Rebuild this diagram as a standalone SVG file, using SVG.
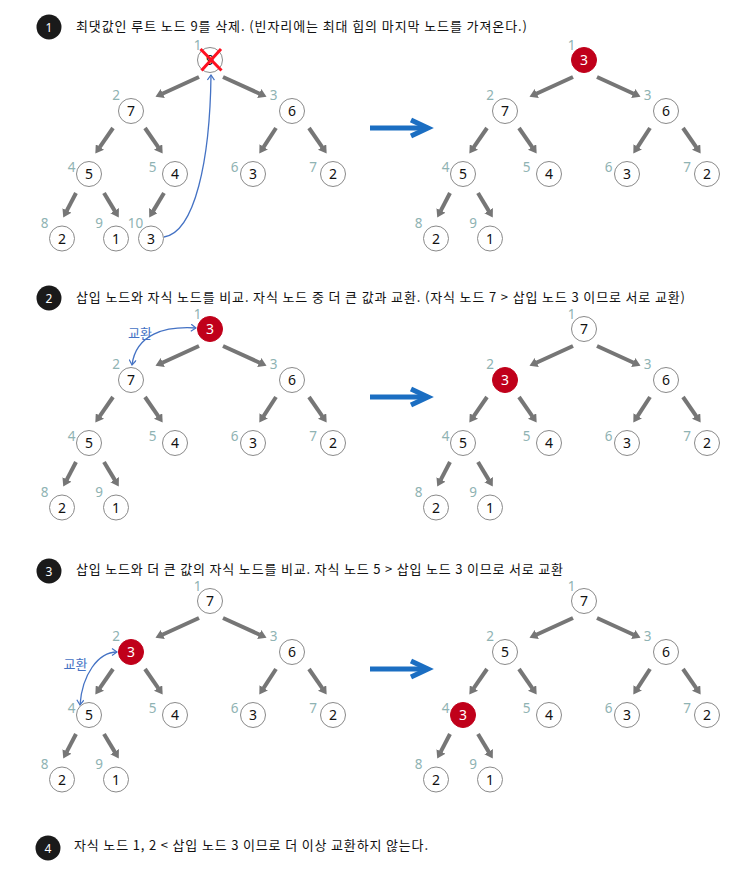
<svg xmlns="http://www.w3.org/2000/svg" width="740" height="886" viewBox="0 0 740 886">
<style>
.bg{fill:#ffffff}
.badge circle{fill:#1a1a1a}
.badge text{fill:#ffffff;font-family:"Noto Sans","Liberation Sans",sans-serif;font-size:12px;text-anchor:middle}
.title{fill:#111111;font-family:"Noto Sans CJK KR","Noto Sans",sans-serif;font-size:13px}
.node circle{fill:#ffffff;stroke:#8a8a8a;stroke-width:1}
.node .val{fill:#111111;font-family:"Noto Sans","Liberation Sans",sans-serif;font-size:14px;text-anchor:middle}
.node .idx{fill:#8fb3b3;font-family:"Noto Sans","Liberation Sans",sans-serif;font-size:13.5px;text-anchor:middle}
.node.red circle{fill:#c0001a;stroke:#c0001a}
.node.red .val{fill:#ffffff}
.edge line{stroke:#767676;stroke-width:4;marker-end:url(#ah)}
.swap{fill:none;stroke:#4472c4;stroke-width:1.3}
.swaplbl{fill:#4472c4;font-family:"Noto Sans CJK KR",sans-serif;font-size:13px;text-anchor:middle}
.big{fill:none;stroke:#1b6ec2;stroke-width:5}
.xmark{stroke:#ff1020;stroke-width:3;stroke-linecap:butt}
</style>
<defs>
<marker id="ah" viewBox="0 -5 8 10" refX="0.5" refY="0" markerWidth="8" markerHeight="10" markerUnits="userSpaceOnUse" orient="auto"><path d="M0,-5 L8,0 L0,5 z" fill="#767676"/></marker>
<marker id="bh" viewBox="-6 -4 7 8" refX="0" refY="0" markerWidth="7" markerHeight="8" markerUnits="userSpaceOnUse" orient="auto-start-reverse"><path d="M-5,-3.5 L0,0 L-5,3.5" fill="none" stroke="#4472c4" stroke-width="1.2"/></marker>
</defs>
<rect class="bg" x="0" y="0" width="740" height="886"/>

<!-- Step titles -->
<g id="step1-title">
<g class="badge"><circle cx="49" cy="27" r="12.5"/><text x="49" y="31.5">1</text></g>
<text class="title" x="76" y="31" textLength="451">최댓값인 루트 노드 9를 삭제. (빈자리에는 최대 힙의 마지막 노드를 가져온다.)</text>
</g>
<g id="step2-title">
<g class="badge"><circle cx="49" cy="298" r="12.5"/><text x="49" y="302.5">2</text></g>
<text class="title" x="76" y="302" textLength="609">삽입 노드와 자식 노드를 비교. 자식 노드 중 더 큰 값과 교환. (자식 노드 7 &gt; 삽입 노드 3 이므로 서로 교환)</text>
</g>
<g id="step3-title">
<g class="badge"><circle cx="49" cy="571" r="12.5"/><text x="49" y="575.5">3</text></g>
<text class="title" x="76" y="574" textLength="487">삽입 노드와 더 큰 값의 자식 노드를 비교. 자식 노드 5 &gt; 삽입 노드 3 이므로 서로 교환</text>
</g>
<g id="step4-title">
<g class="badge"><circle cx="48" cy="848" r="12.5"/><text x="48" y="852.5">4</text></g>
<text class="title" x="74" y="850" textLength="354">자식 노드 1, 2 &lt; 삽입 노드 3 이므로 더 이상 교환하지 않는다.</text>
</g>

<!-- Big transition arrows -->
<g id="transition-arrows">
<line class="big" x1="370" y1="128" x2="424" y2="128"/><polyline class="big" points="411,120 428,128 411,136"/>
<line class="big" x1="370" y1="397" x2="424" y2="397"/><polyline class="big" points="411,389 428,397 411,405"/>
<line class="big" x1="370" y1="669" x2="424" y2="669"/><polyline class="big" points="411,661 428,669 411,677"/>
</g>

<!-- ========== Step 1 left tree ========== -->
<g id="s1l">
<g id="s1l-connectors" class="edge">
<line x1="199" y1="77" x2="162.3" y2="93.7"/>
<line x1="223" y1="77" x2="259.7" y2="93.7"/>
<line x1="113" y1="128" x2="99.6" y2="147.4"/>
<line x1="145" y1="128" x2="158.4" y2="147.4"/>
<line x1="276" y1="128" x2="263.4" y2="147.3"/>
<line x1="309" y1="128" x2="322.4" y2="147.4"/>
<line x1="76" y1="193" x2="66.7" y2="210.9"/>
<line x1="104" y1="193" x2="114.9" y2="211.1"/>
<line x1="164" y1="193" x2="153.1" y2="211.1"/>
<path class="swap" style="marker-end:url(#bh)" d="M164,237 C195,232 210,160 211,75"/>
</g>
<g id="s1l-n1" class="node"><circle cx="210" cy="60" r="12.5"/><text class="val" x="210" y="65">9</text><text class="idx" x="197.5" y="50">1</text><line class="xmark" x1="200.5" y1="49" x2="221.5" y2="70.5"/><line class="xmark" x1="221" y1="49" x2="201.5" y2="70.5"/></g>
<g id="s1l-n2" class="node"><circle cx="131" cy="111" r="12.5"/><text class="val" x="131" y="116">7</text><text class="idx" x="116" y="100">2</text></g>
<g id="s1l-n3" class="node"><circle cx="292" cy="111" r="12.5"/><text class="val" x="292" y="116">6</text><text class="idx" x="273.5" y="100">3</text></g>
<g id="s1l-n4" class="node"><circle cx="89" cy="174" r="12.5"/><text class="val" x="89" y="179">5</text><text class="idx" x="71.5" y="172">4</text></g>
<g id="s1l-n5" class="node"><circle cx="175" cy="174" r="12.5"/><text class="val" x="175" y="179">4</text><text class="idx" x="152.5" y="172">5</text></g>
<g id="s1l-n6" class="node"><circle cx="253" cy="174" r="12.5"/><text class="val" x="253" y="179">3</text><text class="idx" x="234.5" y="172">6</text></g>
<g id="s1l-n7" class="node"><circle cx="333" cy="174" r="12.5"/><text class="val" x="333" y="179">2</text><text class="idx" x="313" y="172">7</text></g>
<g id="s1l-n8" class="node"><circle cx="62" cy="238.5" r="12.5"/><text class="val" x="62" y="243.5">2</text><text class="idx" x="44.5" y="228">8</text></g>
<g id="s1l-n9" class="node"><circle cx="116" cy="238.5" r="12.5"/><text class="val" x="116" y="243.5">1</text><text class="idx" x="99" y="228">9</text></g>
<g id="s1l-n10" class="node"><circle cx="151" cy="238.5" r="12.5"/><text class="val" x="151" y="243.5">3</text><text class="idx" x="135.5" y="228">10</text></g>
</g>

<!-- ========== Step 1 right tree ========== -->
<g id="s1r" transform="translate(374,0)">
<g id="s1r-connectors" class="edge">
<line x1="199" y1="77" x2="162.3" y2="93.7"/>
<line x1="223" y1="77" x2="259.7" y2="93.7"/>
<line x1="113" y1="128" x2="99.6" y2="147.4"/>
<line x1="145" y1="128" x2="158.4" y2="147.4"/>
<line x1="276" y1="128" x2="263.4" y2="147.3"/>
<line x1="309" y1="128" x2="322.4" y2="147.4"/>
<line x1="76" y1="193" x2="66.7" y2="210.9"/>
<line x1="104" y1="193" x2="114.9" y2="211.1"/>
</g>
<g id="s1r-n1" class="node red"><circle cx="210" cy="60" r="12.5"/><text class="val" x="210" y="65">3</text><text class="idx" x="197.5" y="50">1</text></g>
<g id="s1r-n2" class="node"><circle cx="131" cy="111" r="12.5"/><text class="val" x="131" y="116">7</text><text class="idx" x="116" y="100">2</text></g>
<g id="s1r-n3" class="node"><circle cx="292" cy="111" r="12.5"/><text class="val" x="292" y="116">6</text><text class="idx" x="273.5" y="100">3</text></g>
<g id="s1r-n4" class="node"><circle cx="89" cy="174" r="12.5"/><text class="val" x="89" y="179">5</text><text class="idx" x="71.5" y="172">4</text></g>
<g id="s1r-n5" class="node"><circle cx="175" cy="174" r="12.5"/><text class="val" x="175" y="179">4</text><text class="idx" x="152.5" y="172">5</text></g>
<g id="s1r-n6" class="node"><circle cx="253" cy="174" r="12.5"/><text class="val" x="253" y="179">3</text><text class="idx" x="234.5" y="172">6</text></g>
<g id="s1r-n7" class="node"><circle cx="333" cy="174" r="12.5"/><text class="val" x="333" y="179">2</text><text class="idx" x="313" y="172">7</text></g>
<g id="s1r-n8" class="node"><circle cx="62" cy="238.5" r="12.5"/><text class="val" x="62" y="243.5">2</text><text class="idx" x="44.5" y="228">8</text></g>
<g id="s1r-n9" class="node"><circle cx="116" cy="238.5" r="12.5"/><text class="val" x="116" y="243.5">1</text><text class="idx" x="99" y="228">9</text></g>
</g>

<!-- ========== Step 2 left tree ========== -->
<g id="s2l" transform="translate(0,269)">
<g id="s2l-connectors" class="edge">
<line x1="199" y1="77" x2="162.3" y2="93.7"/>
<line x1="223" y1="77" x2="259.7" y2="93.7"/>
<line x1="113" y1="128" x2="99.6" y2="147.4"/>
<line x1="145" y1="128" x2="158.4" y2="147.4"/>
<line x1="276" y1="128" x2="263.4" y2="147.3"/>
<line x1="309" y1="128" x2="322.4" y2="147.4"/>
<line x1="76" y1="193" x2="66.7" y2="210.9"/>
<line x1="104" y1="193" x2="114.9" y2="211.1"/>
<path class="swap" style="marker-start:url(#bh);marker-end:url(#bh)" d="M196,59 C165,57 136,65 132,96"/>
</g>
<text class="swaplbl" x="140" y="69">교환</text>
<g id="s2l-n1" class="node red"><circle cx="210" cy="60" r="12.5"/><text class="val" x="210" y="65">3</text><text class="idx" x="197.5" y="50">1</text></g>
<g id="s2l-n2" class="node"><circle cx="131" cy="111" r="12.5"/><text class="val" x="131" y="116">7</text><text class="idx" x="116" y="100">2</text></g>
<g id="s2l-n3" class="node"><circle cx="292" cy="111" r="12.5"/><text class="val" x="292" y="116">6</text><text class="idx" x="273.5" y="100">3</text></g>
<g id="s2l-n4" class="node"><circle cx="89" cy="174" r="12.5"/><text class="val" x="89" y="179">5</text><text class="idx" x="71.5" y="172">4</text></g>
<g id="s2l-n5" class="node"><circle cx="175" cy="174" r="12.5"/><text class="val" x="175" y="179">4</text><text class="idx" x="152.5" y="172">5</text></g>
<g id="s2l-n6" class="node"><circle cx="253" cy="174" r="12.5"/><text class="val" x="253" y="179">3</text><text class="idx" x="234.5" y="172">6</text></g>
<g id="s2l-n7" class="node"><circle cx="333" cy="174" r="12.5"/><text class="val" x="333" y="179">2</text><text class="idx" x="313" y="172">7</text></g>
<g id="s2l-n8" class="node"><circle cx="62" cy="238.5" r="12.5"/><text class="val" x="62" y="243.5">2</text><text class="idx" x="44.5" y="228">8</text></g>
<g id="s2l-n9" class="node"><circle cx="116" cy="238.5" r="12.5"/><text class="val" x="116" y="243.5">1</text><text class="idx" x="99" y="228">9</text></g>
</g>

<!-- ========== Step 2 right tree ========== -->
<g id="s2r" transform="translate(374,269)">
<g id="s2r-connectors" class="edge">
<line x1="199" y1="77" x2="162.3" y2="93.7"/>
<line x1="223" y1="77" x2="259.7" y2="93.7"/>
<line x1="113" y1="128" x2="99.6" y2="147.4"/>
<line x1="145" y1="128" x2="158.4" y2="147.4"/>
<line x1="276" y1="128" x2="263.4" y2="147.3"/>
<line x1="309" y1="128" x2="322.4" y2="147.4"/>
<line x1="76" y1="193" x2="66.7" y2="210.9"/>
<line x1="104" y1="193" x2="114.9" y2="211.1"/>
</g>
<g id="s2r-n1" class="node"><circle cx="210" cy="60" r="12.5"/><text class="val" x="210" y="65">7</text><text class="idx" x="197.5" y="50">1</text></g>
<g id="s2r-n2" class="node red"><circle cx="131" cy="111" r="12.5"/><text class="val" x="131" y="116">3</text><text class="idx" x="116" y="100">2</text></g>
<g id="s2r-n3" class="node"><circle cx="292" cy="111" r="12.5"/><text class="val" x="292" y="116">6</text><text class="idx" x="273.5" y="100">3</text></g>
<g id="s2r-n4" class="node"><circle cx="89" cy="174" r="12.5"/><text class="val" x="89" y="179">5</text><text class="idx" x="71.5" y="172">4</text></g>
<g id="s2r-n5" class="node"><circle cx="175" cy="174" r="12.5"/><text class="val" x="175" y="179">4</text><text class="idx" x="152.5" y="172">5</text></g>
<g id="s2r-n6" class="node"><circle cx="253" cy="174" r="12.5"/><text class="val" x="253" y="179">3</text><text class="idx" x="234.5" y="172">6</text></g>
<g id="s2r-n7" class="node"><circle cx="333" cy="174" r="12.5"/><text class="val" x="333" y="179">2</text><text class="idx" x="313" y="172">7</text></g>
<g id="s2r-n8" class="node"><circle cx="62" cy="238.5" r="12.5"/><text class="val" x="62" y="243.5">2</text><text class="idx" x="44.5" y="228">8</text></g>
<g id="s2r-n9" class="node"><circle cx="116" cy="238.5" r="12.5"/><text class="val" x="116" y="243.5">1</text><text class="idx" x="99" y="228">9</text></g>
</g>

<!-- ========== Step 3 left tree ========== -->
<g id="s3l" transform="translate(0,541)">
<g id="s3l-connectors" class="edge">
<line x1="199" y1="77" x2="162.3" y2="93.7"/>
<line x1="223" y1="77" x2="259.7" y2="93.7"/>
<line x1="113" y1="128" x2="99.6" y2="147.4"/>
<line x1="145" y1="128" x2="158.4" y2="147.4"/>
<line x1="276" y1="128" x2="263.4" y2="147.3"/>
<line x1="309" y1="128" x2="322.4" y2="147.4"/>
<line x1="76" y1="193" x2="66.7" y2="210.9"/>
<line x1="104" y1="193" x2="114.9" y2="211.1"/>
<path class="swap" style="marker-start:url(#bh);marker-end:url(#bh)" d="M117,111 C98,111 82,134 80,164"/>
</g>
<text class="swaplbl" x="75.5" y="128">교환</text>
<g id="s3l-n1" class="node"><circle cx="210" cy="60" r="12.5"/><text class="val" x="210" y="65">7</text><text class="idx" x="197.5" y="50">1</text></g>
<g id="s3l-n2" class="node red"><circle cx="131" cy="111" r="12.5"/><text class="val" x="131" y="116">3</text><text class="idx" x="116" y="100">2</text></g>
<g id="s3l-n3" class="node"><circle cx="292" cy="111" r="12.5"/><text class="val" x="292" y="116">6</text><text class="idx" x="273.5" y="100">3</text></g>
<g id="s3l-n4" class="node"><circle cx="89" cy="174" r="12.5"/><text class="val" x="89" y="179">5</text><text class="idx" x="71.5" y="172">4</text></g>
<g id="s3l-n5" class="node"><circle cx="175" cy="174" r="12.5"/><text class="val" x="175" y="179">4</text><text class="idx" x="152.5" y="172">5</text></g>
<g id="s3l-n6" class="node"><circle cx="253" cy="174" r="12.5"/><text class="val" x="253" y="179">3</text><text class="idx" x="234.5" y="172">6</text></g>
<g id="s3l-n7" class="node"><circle cx="333" cy="174" r="12.5"/><text class="val" x="333" y="179">2</text><text class="idx" x="313" y="172">7</text></g>
<g id="s3l-n8" class="node"><circle cx="62" cy="238.5" r="12.5"/><text class="val" x="62" y="243.5">2</text><text class="idx" x="44.5" y="228">8</text></g>
<g id="s3l-n9" class="node"><circle cx="116" cy="238.5" r="12.5"/><text class="val" x="116" y="243.5">1</text><text class="idx" x="99" y="228">9</text></g>
</g>

<!-- ========== Step 3 right tree ========== -->
<g id="s3r" transform="translate(374,541)">
<g id="s3r-connectors" class="edge">
<line x1="199" y1="77" x2="162.3" y2="93.7"/>
<line x1="223" y1="77" x2="259.7" y2="93.7"/>
<line x1="113" y1="128" x2="99.6" y2="147.4"/>
<line x1="145" y1="128" x2="158.4" y2="147.4"/>
<line x1="276" y1="128" x2="263.4" y2="147.3"/>
<line x1="309" y1="128" x2="322.4" y2="147.4"/>
<line x1="76" y1="193" x2="66.7" y2="210.9"/>
<line x1="104" y1="193" x2="114.9" y2="211.1"/>
</g>
<g id="s3r-n1" class="node"><circle cx="210" cy="60" r="12.5"/><text class="val" x="210" y="65">7</text><text class="idx" x="197.5" y="50">1</text></g>
<g id="s3r-n2" class="node"><circle cx="131" cy="111" r="12.5"/><text class="val" x="131" y="116">5</text><text class="idx" x="116" y="100">2</text></g>
<g id="s3r-n3" class="node"><circle cx="292" cy="111" r="12.5"/><text class="val" x="292" y="116">6</text><text class="idx" x="273.5" y="100">3</text></g>
<g id="s3r-n4" class="node red"><circle cx="89" cy="174" r="12.5"/><text class="val" x="89" y="179">3</text><text class="idx" x="71.5" y="172">4</text></g>
<g id="s3r-n5" class="node"><circle cx="175" cy="174" r="12.5"/><text class="val" x="175" y="179">4</text><text class="idx" x="152.5" y="172">5</text></g>
<g id="s3r-n6" class="node"><circle cx="253" cy="174" r="12.5"/><text class="val" x="253" y="179">3</text><text class="idx" x="234.5" y="172">6</text></g>
<g id="s3r-n7" class="node"><circle cx="333" cy="174" r="12.5"/><text class="val" x="333" y="179">2</text><text class="idx" x="313" y="172">7</text></g>
<g id="s3r-n8" class="node"><circle cx="62" cy="238.5" r="12.5"/><text class="val" x="62" y="243.5">2</text><text class="idx" x="44.5" y="228">8</text></g>
<g id="s3r-n9" class="node"><circle cx="116" cy="238.5" r="12.5"/><text class="val" x="116" y="243.5">1</text><text class="idx" x="99" y="228">9</text></g>
</g>
</svg>
